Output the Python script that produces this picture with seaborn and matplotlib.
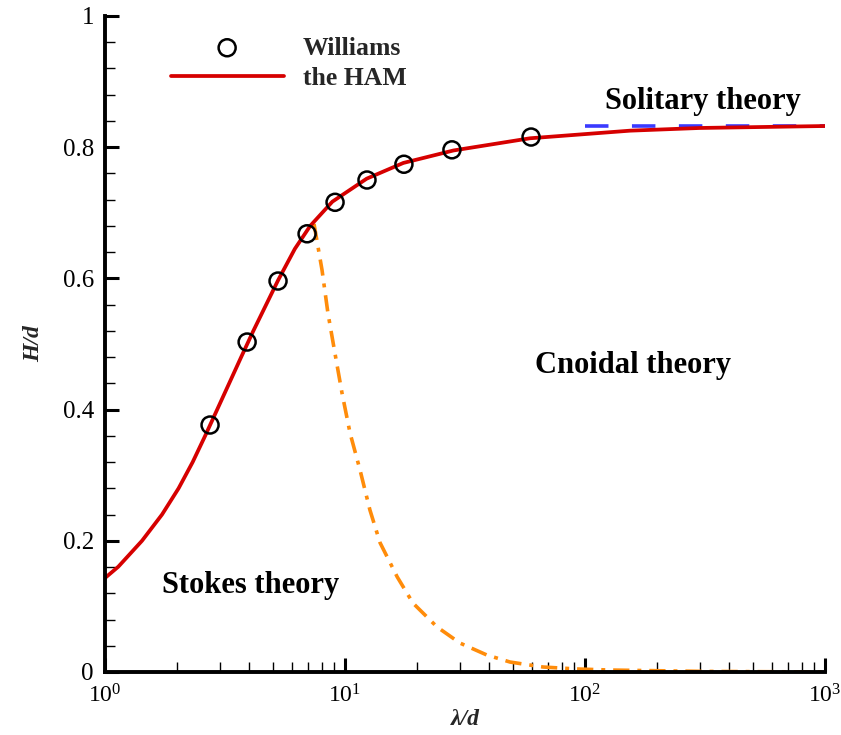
import matplotlib
matplotlib.use("Agg")
import matplotlib.pyplot as plt
import matplotlib.ticker as mticker
import numpy as np
import pandas as pd
import seaborn as sns

# Williams data
williams_x = [2.74, 3.91, 5.26, 6.95, 9.09, 12.35, 17.6, 27.9, 59.6]
williams_y = [0.3765, 0.503, 0.596, 0.668, 0.716, 0.750, 0.774, 0.796, 0.8155]

# HAM curve
ham_x = [1.0, 1.136, 1.426, 1.728, 2.026, 2.319, 2.614, 2.933, 3.291, 3.692,
         4.15, 5.26, 6.18, 7.16, 8.86, 12.31, 17.5, 28.3, 59.0, 154.0,
         301.0, 1000.0]
ham_y = [0.1433, 0.1605, 0.200, 0.240, 0.280, 0.320, 0.360, 0.400, 0.440, 0.480,
         0.520, 0.597, 0.645, 0.680, 0.717, 0.752, 0.776, 0.795, 0.8136, 0.8252,
         0.8293, 0.8323]

# Stokes / cnoidal boundary (dash-dot)
bound_x = [7.43, 8.02, 8.49, 9.08, 9.72, 10.5, 11.55, 12.7, 14.0, 16.5, 19.2,
           24.2, 30.1, 39.0, 48.7, 66.8, 92.6, 127.0, 300.0, 1000.0]
bound_y = [0.683, 0.613, 0.547, 0.486, 0.425, 0.364, 0.308, 0.247, 0.197, 0.145,
           0.105, 0.0686, 0.0442, 0.0259, 0.0152, 0.0076, 0.0046, 0.003, 0.001, 0.0]

# Solitary limit
sol_x = [100.0, 1000.0]
sol_y = [0.8325, 0.8325]

sns.set_theme(style="ticks")
plt.rcParams["font.family"] = ["Liberation Serif", "DejaVu Serif"]
plt.rcParams["mathtext.fontset"] = "stix"

fig = plt.figure(figsize=(8.41, 7.35), dpi=100)
ax = fig.add_axes([105 / 841, 63 / 735, 720 / 841, 656 / 735])

df_ham = pd.DataFrame({"x": ham_x, "y": ham_y})
df_b = pd.DataFrame({"x": bound_x, "y": bound_y})
df_s = pd.DataFrame({"x": sol_x, "y": sol_y})
df_w = pd.DataFrame({"x": williams_x, "y": williams_y})

sns.lineplot(data=df_s, x="x", y="y", ax=ax, color="#3a3aff", lw=2.6,
             estimator=None, sort=False, linestyle=(0, (6.5, 6.5)))
sns.lineplot(data=df_b, x="x", y="y", ax=ax, color="#ff8c0a", lw=2.6,
             estimator=None, sort=False, linestyle=(0, (4.5, 2.2, 1.1, 2.2)))
sns.lineplot(data=df_ham, x="x", y="y", ax=ax, color="#d60000", lw=2.7,
             estimator=None, sort=False, label="the HAM")
sns.scatterplot(data=df_w, x="x", y="y", ax=ax, marker="o", s=150,
                facecolor="none", edgecolor="black", linewidth=1.8,
                label="Williams", zorder=5)

ax.set_xscale("log")
ax.set_xlim(1, 1000)
ax.set_ylim(0, 1)

for s in ["top", "right"]:
    ax.spines[s].set_visible(False)
for s in ["left", "bottom"]:
    ax.spines[s].set_linewidth(2.8)
    ax.spines[s].set_color("black")

ax.xaxis.set_major_locator(mticker.LogLocator(base=10, numticks=10))
ax.xaxis.set_minor_locator(mticker.LogLocator(base=10, subs=np.arange(2, 10), numticks=20))
ax.xaxis.set_minor_formatter(mticker.NullFormatter())
ax.set_yticks([0, 0.2, 0.4, 0.6, 0.8, 1.0])
ax.set_yticklabels(["0", "0.2", "0.4", "0.6", "0.8", "1"])
ax.yaxis.set_minor_locator(mticker.MultipleLocator(0.04))

ax.tick_params(which="major", direction="in", length=10, width=2.2,
               labelsize=18, colors="black")
ax.tick_params(which="minor", direction="in", length=7, width=1.0, colors="black")
ax.tick_params(axis="y", which="major", pad=8)
ax.tick_params(axis="x", which="major", pad=9, labelsize=17)

ax.set_xlabel("λ/d", fontsize=17, fontweight="bold", fontstyle="italic", labelpad=1)
ax.set_ylabel("H/d", fontsize=17, fontweight="bold", fontstyle="italic", labelpad=13)

txt = dict(fontsize=22, fontweight="bold", color="black", ha="center", va="center")
ax.text(10 ** ((703 - 105) / 240), (672 - 101) / 656, "Solitary theory", **txt)
ax.text(10 ** ((633 - 105) / 240), (672 - 366) / 656, "Cnoidal theory", **txt)
ax.text(10 ** ((251 - 105) / 240), (672 - 585) / 656, "Stokes theory", **txt)

handles, labels = ax.get_legend_handles_labels()
order = [labels.index("Williams"), labels.index("the HAM")]
ax.legend([handles[i] for i in order], [labels[i] for i in order],
          loc="upper left", bbox_to_anchor=(0.059, 1.004), frameon=False,
          prop={"family": "Liberation Serif", "weight": "bold", "size": 18.5},
          handlelength=4.4, handletextpad=0.75, labelspacing=0.3)

fig.savefig("out.png", dpi=100)
